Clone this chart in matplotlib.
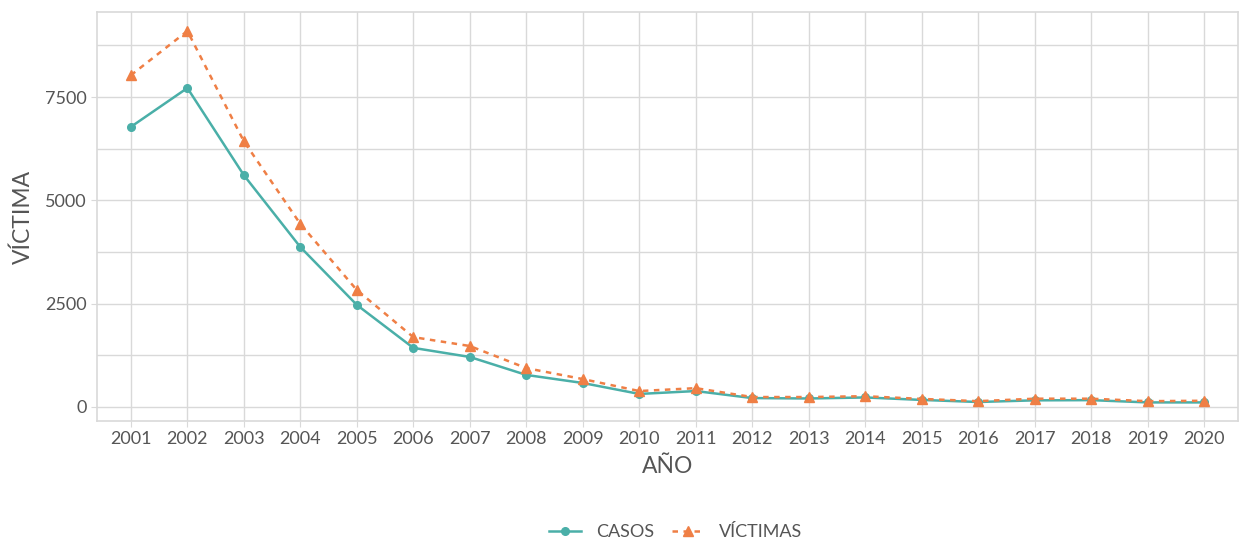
import matplotlib
matplotlib.use("Agg")
import matplotlib.pyplot as plt
import numpy as np

plt.rcParams['font.family'] = ['Lato', 'DejaVu Sans']

# data
years = list(range(2001, 2021))
casos = [6780, 7720, 5610, 3870, 2470, 1430, 1210, 775, 580, 315,
         385, 215, 205, 230, 170, 120, 160, 165, 110, 110]
victimas = [8030, 9100, 6430, 4430, 2830, 1690, 1475, 940, 675, 385,
            455, 240, 240, 260, 195, 140, 200, 200, 140, 150]
yticks = [0, 2500, 5000, 7500]

teal = '#4AAFA8'
orange = '#EF7F45'
txt = '#555555'
grid = '#d9d9d9'

fig = plt.figure(figsize=(12.39, 5.43), dpi=100)
ax = fig.add_axes([97 / 1239, 1 - 421 / 543, (1238 - 97) / 1239, (421 - 12) / 543])

ax.plot(years, casos, color=teal, lw=1.8, marker='o', ms=5.5, label='CASOS')
ax.plot(years, victimas, color=orange, lw=1.8, ls=(0, (2.2, 2.2)), marker='^', ms=6.5,
        label='VÍCTIMAS')

ax.set_xlim(2001 - 0.6, 2020 + 0.6)
ax.set_ylim(-340, 9560)
ax.set_xticks(years)
ax.set_yticks(yticks)
ax.set_yticks([1250, 3750, 6250, 8750], minor=True)
ax.set_xticklabels([str(y) for y in years])
ax.grid(True, which='both', color=grid, lw=1)
ax.set_axisbelow(True)
for s in ax.spines.values():
    s.set_color(grid)
    s.set_linewidth(1.2)
ax.tick_params(which='both', colors=grid, length=4, labelcolor=txt, labelsize=13)
ax.tick_params(which='minor', length=0)

ax.set_xlabel('AÑO', color=txt, fontsize=16.5, labelpad=6)
ax.set_ylabel('VÍCTIMA', color=txt, fontsize=16.5, labelpad=8)

ax.legend(loc='center', bbox_to_anchor=(0.507, -0.272), ncol=2, frameon=False,
          fontsize=13, labelcolor=txt, handlelength=1.8, columnspacing=1.0,
          handletextpad=0.8)

fig.savefig('out.png', dpi=100)
